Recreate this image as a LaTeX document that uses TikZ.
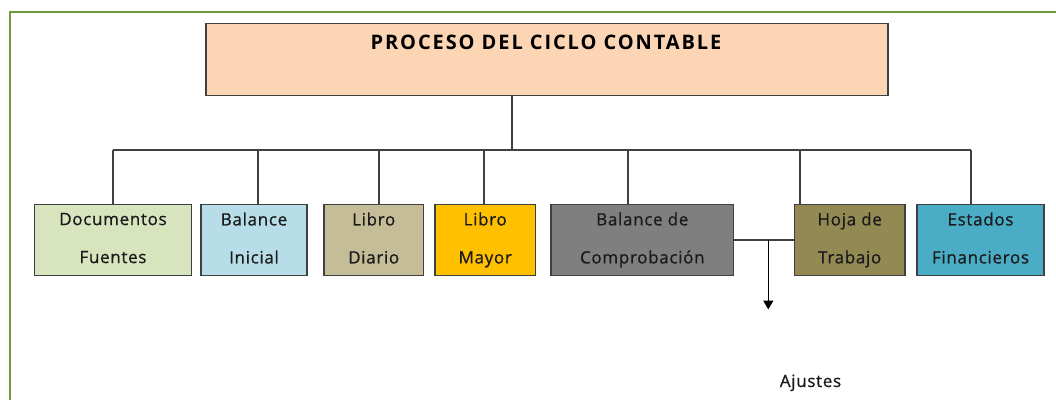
\documentclass[tikz,border=0pt]{standalone}
\usepackage{fontspec}
\setmainfont{Open Sans}
\newfontfamily\bodyfont[LetterSpace=4, FakeBold=0.7]{Open Sans}
\newfontfamily\titlefont[LetterSpace=9.5]{Open Sans Bold}
\usetikzlibrary{arrows.meta}
\newcommand\lnstrut{\rule[-4pt]{0pt}{16pt}}
\definecolor{frame}{HTML}{71993F}
\definecolor{bordc}{HTML}{404040}
\definecolor{linec}{HTML}{404040}
\definecolor{txtc}{HTML}{1A1A1A}
\definecolor{titlefill}{HTML}{FCD5B5}
\definecolor{cdoc}{HTML}{D7E4BD}
\definecolor{cbal}{HTML}{B7DEE8}
\definecolor{cdia}{HTML}{C4BD97}
\definecolor{cmay}{HTML}{FFC000}
\definecolor{cbdc}{HTML}{7F7F7F}
\definecolor{choj}{HTML}{938953}
\definecolor{cest}{HTML}{4BACC6}
\tikzset{
  stepbox/.style={draw=bordc, line width=1.4pt, inner sep=0pt, minimum height=71.5pt,
    align=center, text=txtc, font={\bodyfont\fontsize{17}{38}\selectfont}},
  conn/.style={draw=linec, line width=1.5pt},
  label/.style={text=txtc, font={\bodyfont\fontsize{17}{18}\selectfont}, inner sep=0pt}
}
\begin{document}
\begin{tikzpicture}[x=1pt,y=-1pt]
\useasboundingbox (0,0) rectangle (1056,399);
\fill[white] (0,0) rectangle (1056,399);
% frame
\draw[frame, line width=2pt] (9.5,400) -- (9.5,12.3) -- (1057,12.3);
% title
\node[draw=bordc, line width=1.4pt, fill=titlefill, minimum width=682pt, minimum height=72pt, inner sep=0pt] (title) at (547,59.5) {};
\node[font={\titlefont\fontsize{20}{20}\selectfont}, inner sep=0pt] (ttext) at (546,42) {PROCESO DEL CICLO CONTABLE};
% boxes
\node[stepbox, fill=cdoc, minimum width=157pt] (doc) at (113,240) {Documentos\lnstrut\\Fuentes\lnstrut};
\node[stepbox, fill=cbal, minimum width=106pt] (bal) at (254,240) {Balance\lnstrut\\Inicial\lnstrut};
\node[stepbox, fill=cdia, minimum width=99.5pt] (dia) at (373.7,240) {Libro\lnstrut\\Diario\lnstrut};
\node[stepbox, fill=cmay, minimum width=100.5pt] (may) at (485.2,240) {Libro\lnstrut\\Mayor\lnstrut};
\node[stepbox, fill=cbdc, minimum width=182.7pt] (bdc) at (642.3,240) {Balance de\lnstrut\\Comprobación\lnstrut};
\node[stepbox, fill=choj, minimum width=110.6pt] (hoj) at (849.7,240) {Hoja de\lnstrut\\Trabajo\lnstrut};
\node[stepbox, fill=cest, minimum width=127pt] (est) at (980.5,240) {Estados\lnstrut\\Financieros\lnstrut};
% tree connectors
\coordinate (hub) at (512,150);
\coordinate (hl) at (113,150);
\coordinate (hr) at (971,150);
\draw[conn] (title.south -| hub) -- (hub);
\draw[conn] (hl) -- (hr);
\draw[conn] (hl) -- (doc.north);
\draw[conn] (258,150) -- (bal.north -| 258,0);
\draw[conn] (379,150) -- (dia.north -| 379,0);
\draw[conn] (484,150) -- (may.north -| 484,0);
\draw[conn] (628,150) -- (bdc.north -| 628,0);
\draw[conn] (800,150) -- (hoj.north -| 800,0);
\draw[conn] (hr) -- (est.north -| hr);
% ajustes connector
\coordinate (jn) at (768.3,240);
\coordinate (ajtip) at (768.3,309.5);
\draw[conn] (bdc.east) -- (hoj.west);
\draw[line width=1.5pt, draw=black, -{Triangle[width=10pt,length=9pt]}] (jn) -- (ajtip);
\node[label, anchor=base] (aj) at (810.5,387) {Ajustes};
\end{tikzpicture}
\end{document}
